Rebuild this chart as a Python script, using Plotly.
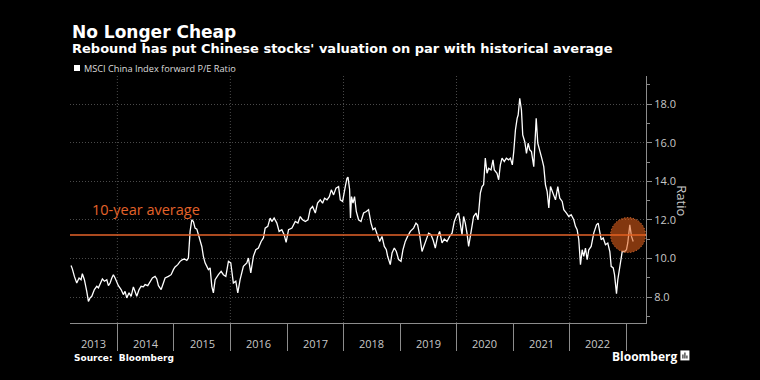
import plotly.graph_objects as go
import pandas as pd

# ---------------- data ----------------
# time as decimal years, P/E ratio values
T = [2013.180, 2013.203, 2013.239, 2013.281, 2013.322, 2013.357, 2013.380, 2013.416, 2013.458, 2013.487,
     2013.517, 2013.547, 2013.593, 2013.635, 2013.664, 2013.711, 2013.734, 2013.770, 2013.812, 2013.841,
     2013.871, 2013.901, 2013.929, 2013.959, 2013.989, 2014.018, 2014.066, 2014.106, 2014.136, 2014.166,
     2014.207, 2014.243, 2014.283, 2014.313, 2014.343, 2014.384, 2014.420, 2014.460, 2014.490, 2014.538,
     2014.579, 2014.620, 2014.667, 2014.697, 2014.726, 2014.774, 2014.814, 2014.844, 2014.903, 2014.951,
     2014.991, 2015.021, 2015.069, 2015.110, 2015.151, 2015.186, 2015.229, 2015.257, 2015.287, 2015.317,
     2015.345, 2015.375, 2015.406, 2015.434, 2015.464, 2015.494, 2015.522, 2015.552, 2015.583, 2015.611,
     2015.641, 2015.671, 2015.699, 2015.730, 2015.788, 2015.836, 2015.876, 2015.919, 2015.965, 2016.007,
     2016.053, 2016.096, 2016.131, 2016.172, 2016.230, 2016.291, 2016.319, 2016.361, 2016.407, 2016.450,
     2016.496, 2016.544, 2016.585, 2016.615, 2016.662, 2016.703, 2016.733, 2016.774, 2016.822, 2016.862,
     2016.910, 2016.951, 2016.986, 2017.027, 2017.087, 2017.146, 2017.193, 2017.234, 2017.275, 2017.323,
     2017.371, 2017.411, 2017.452, 2017.500, 2017.540, 2017.588, 2017.629, 2017.664, 2017.707, 2017.748,
     2017.783, 2017.824, 2017.866, 2017.912, 2017.942, 2017.983, 2018.031, 2018.061, 2018.079, 2018.107,
     2018.123, 2018.141, 2018.167, 2018.195, 2018.226, 2018.266, 2018.309, 2018.355, 2018.403, 2018.443,
     2018.486, 2018.521, 2018.557, 2018.603, 2018.638, 2018.680, 2018.721, 2018.757, 2018.780, 2018.827,
     2018.858, 2018.898, 2018.934, 2018.974, 2019.017, 2019.052, 2019.093, 2019.134, 2019.182, 2019.240,
     2019.282, 2019.311, 2019.346, 2019.389, 2019.429, 2019.465, 2019.505, 2019.548, 2019.583, 2019.624,
     2019.665, 2019.700, 2019.743, 2019.783, 2019.831, 2019.877, 2019.920, 2019.960, 2020.008, 2020.037,
     2020.067, 2020.097, 2020.125, 2020.155, 2020.185, 2020.214, 2020.244, 2020.274, 2020.302, 2020.345,
     2020.380, 2020.421, 2020.451, 2020.479, 2020.509, 2020.539, 2020.568, 2020.610, 2020.645, 2020.668,
     2020.716, 2020.745, 2020.775, 2020.805, 2020.845, 2020.881, 2020.922, 2020.952, 2020.987, 2021.010,
     2021.040, 2021.070, 2021.088, 2021.116, 2021.146, 2021.169, 2021.205, 2021.235, 2021.265, 2021.293,
     2021.323, 2021.364, 2021.407, 2021.435, 2021.470, 2021.513, 2021.541, 2021.571, 2021.601, 2021.630,
     2021.660, 2021.708, 2021.748, 2021.789, 2021.824, 2021.867, 2021.895, 2021.943, 2021.984, 2022.026,
     2022.072, 2022.102, 2022.132, 2022.161, 2022.191, 2022.221, 2022.249, 2022.279, 2022.309, 2022.338,
     2022.380, 2022.426, 2022.474, 2022.504, 2022.532, 2022.557, 2022.593, 2022.633, 2022.674, 2022.710,
     2022.734, 2022.770, 2022.793, 2022.828, 2022.851, 2022.881, 2022.911, 2022.929, 2022.970, 2023.005,
     2023.028, 2023.064, 2023.094, 2023.124]

PE = [9.64, 9.47, 9.08, 8.74, 9.00, 8.91, 9.22, 8.91, 8.31, 7.79,
      7.97, 8.05, 8.40, 8.57, 8.49, 8.83, 8.95, 8.83, 8.91, 8.60,
      8.74, 9.00, 9.17, 9.00, 8.74, 8.60, 8.40, 8.14, 8.31, 7.97,
      8.23, 8.05, 8.54, 8.23, 8.05, 8.40, 8.57, 8.54, 8.66, 8.60,
      8.83, 9.00, 9.08, 8.95, 8.60, 8.40, 8.74, 9.00, 9.08, 9.17,
      9.43, 9.57, 9.69, 9.86, 9.95, 9.98, 9.91, 10.03, 11.41, 12.01,
      11.92, 11.58, 11.53, 11.24, 11.07, 10.63, 10.12, 9.78, 9.60, 9.43,
      9.52, 8.57, 8.23, 8.91, 9.17, 9.34, 9.17, 9.08, 9.86, 9.78,
      8.74, 8.83, 8.23, 8.91, 9.60, 9.78, 10.03, 9.26, 10.12, 10.46,
      10.55, 10.89, 11.07, 11.58, 11.67, 12.10, 11.92, 12.10, 11.84, 11.41,
      11.50, 11.24, 10.84, 11.50, 11.58, 11.92, 11.84, 12.18, 12.01, 11.92,
      12.01, 12.56, 12.70, 12.36, 12.87, 13.04, 12.87, 13.13, 13.04, 13.21,
      13.56, 13.30, 13.65, 13.73, 13.04, 12.96, 13.73, 14.16, 14.22, 13.60,
      12.10, 13.21, 12.87, 13.21, 12.44, 12.01, 11.92, 12.36, 12.44, 12.53,
      11.84, 11.50, 11.58, 11.24, 10.89, 11.15, 10.63, 10.46, 10.12, 9.69,
      10.29, 10.55, 10.37, 9.95, 9.86, 10.46, 10.89, 11.15, 11.41, 11.58,
      11.84, 11.75, 11.24, 10.37, 10.72, 10.98, 11.32, 11.24, 10.98, 10.55,
      11.15, 11.41, 10.81, 11.01, 10.89, 11.15, 11.32, 11.92, 12.27, 12.36,
      11.84, 11.24, 12.18, 11.84, 11.32, 10.63, 11.15, 11.67, 12.18, 12.36,
      12.01, 13.39, 13.73, 13.82, 15.20, 14.42, 14.68, 14.59, 15.11, 14.59,
      14.42, 14.08, 14.85, 15.20, 15.02, 15.20, 15.11, 15.20, 14.85, 15.54,
      16.66, 17.26, 17.43, 18.29, 17.69, 16.40, 16.05, 15.45, 15.97, 15.63,
      15.54, 14.76, 17.26, 15.97, 15.63, 15.11, 14.76, 13.82, 13.47, 12.62,
      13.73, 13.39, 13.04, 13.73, 13.13, 12.96, 12.53, 12.36, 12.18, 12.27,
      12.01, 11.67, 11.50, 10.98, 9.69, 10.46, 10.12, 10.55, 9.95, 10.46,
      10.63, 11.32, 11.75, 11.84, 11.24, 10.98, 11.07, 10.72, 10.81, 10.37,
      9.60, 9.52, 9.17, 8.19, 8.91, 9.43, 9.86, 10.37, 10.37, 10.46,
      10.81, 11.75, 11.15, 10.89]

AVG_10Y = 11.22
YEAR_LABELS = [2013, 2014, 2015, 2016, 2017, 2018, 2019, 2020, 2021, 2022]
GRID_YEARS = [2014, 2016, 2018, 2020, 2022]
SERIES_NAME = "MSCI China Index forward P/E Ratio"
X_RANGE = ["2013-03-01", "2023-05-09"]
Y_RANGE = [6.67, 19.45]
HIGHLIGHT_DATE = "2023-01-13"


def to_date(t):
    y = int(t)
    return pd.Timestamp(year=y, month=1, day=1) + pd.Timedelta(days=(t - y) * 365.25)


dates = [to_date(t) for t in T]

# ---------------- layout geometry ----------------
W, H = 760, 380
PL, PR, PT, PB = 70, 645.6, 76, 323.5


def px_x(px):
    return (px - PL) / (PR - PL)


def px_y(py):
    return (PB - py) / (PB - PT)


ORANGE = "#e4632a"
GRID = "#4a4a4a"
AXIS = "#8c8c8c"
TICKTXT = "#c8c8c8"

fig = go.Figure()
fig.add_trace(go.Scatter(x=dates, y=PE, mode="lines", name=SERIES_NAME,
                         line=dict(color="#ffffff", width=1.3), showlegend=False,
                         hoverinfo="skip"))

fig.add_hline(y=AVG_10Y, line=dict(color=ORANGE, width=1.6), layer="above")

# even-year vertical dotted gridlines
for yr in GRID_YEARS:
    fig.add_shape(type="line", xref="x", yref="paper", x0=f"{yr}-01-01", x1=f"{yr}-01-01",
                  y0=0, y1=1, line=dict(color=GRID, width=1, dash="1px,2px"), layer="below")

# highlight circle
fig.add_shape(type="circle", xref="x", yref="y", xsizemode="pixel", ysizemode="pixel",
              xanchor=HIGHLIGHT_DATE, yanchor=AVG_10Y, x0=-17.5, x1=17.5, y0=-17.5, y1=17.5,
              fillcolor="rgba(225,95,25,0.58)", line=dict(color="#e8783a", width=1, dash="1px,2px"),
              layer="above")

ann = []
# year labels
for yr in YEAR_LABELS:
    xd = f"{yr}-07-02" if yr != 2013 else "2013-08-01"
    ann.append(dict(x=xd, xref="x", y=0, yref="paper", yshift=-20.5, yanchor="middle",
                    xanchor="center", text=str(yr), showarrow=False,
                    font=dict(family="Open Sans", size=11, color=TICKTXT)))

ann += [
    dict(x=px_x(70), y=px_y(31.5), xref="paper", yref="paper", xanchor="left", yanchor="middle",
         text="<b>No Longer Cheap</b>", showarrow=False,
         font=dict(family="DejaVu Sans", size=17, color="#ffffff")),
    dict(x=px_x(70), y=px_y(48.5), xref="paper", yref="paper", xanchor="left", yanchor="middle",
         text="<b>Rebound has put Chinese stocks' valuation on par with historical average</b>",
         showarrow=False, font=dict(family="DejaVu Sans", size=13, color="#ffffff")),
    dict(x=px_x(82), y=px_y(68), xref="paper", yref="paper", xanchor="left", yanchor="middle",
         text=SERIES_NAME, showarrow=False,
         font=dict(family="Open Sans", size=9.2, color="#dddddd")),
    dict(x=px_x(89.5), y=px_y(210), xref="paper", yref="paper", xanchor="left", yanchor="middle",
         text="10-year average", showarrow=False,
         font=dict(family="Open Sans", size=14.5, color=ORANGE)),
    dict(x=px_x(682), y=px_y(201), xref="paper", yref="paper", xanchor="center", yanchor="middle",
         text="Ratio", textangle=90, showarrow=False,
         font=dict(family="Open Sans", size=13, color=TICKTXT)),
    dict(x=px_x(72), y=px_y(359), xref="paper", yref="paper", xanchor="left", yanchor="middle",
         text="<b>Source:  Bloomberg</b>", showarrow=False,
         font=dict(family="DejaVu Sans", size=9, color="#ffffff")),
    dict(x=px_x(610), y=px_y(357), xref="paper", yref="paper", xanchor="left", yanchor="middle",
         text="<b>Bloomberg</b>", showarrow=False,
         font=dict(family="Open Sans", size=12, color="#ffffff")),
]

shapes = [
    # legend swatch
    dict(type="rect", xref="paper", yref="paper", x0=px_x(74), x1=px_x(80), y0=px_y(71), y1=px_y(65),
         fillcolor="#ffffff", line=dict(width=0)),
    # Bloomberg icon
    dict(type="rect", xref="paper", yref="paper", x0=px_x(680), x1=px_x(689), y0=px_y(361), y1=px_y(351),
         fillcolor="#ffffff", line=dict(width=0)),
    dict(type="rect", xref="paper", yref="paper", x0=px_x(682), x1=px_x(683), y0=px_y(359), y1=px_y(355),
         fillcolor="#000000", line=dict(width=0)),
    dict(type="rect", xref="paper", yref="paper", x0=px_x(684), x1=px_x(685), y0=px_y(359), y1=px_y(353),
         fillcolor="#000000", line=dict(width=0)),
    dict(type="rect", xref="paper", yref="paper", x0=px_x(686), x1=px_x(687), y0=px_y(359), y1=px_y(356),
         fillcolor="#000000", line=dict(width=0)),
]
for s in shapes:
    fig.add_shape(**s)

fig.update_layout(
    width=W, height=H,
    margin=dict(l=PL, r=W - PR, t=PT, b=H - PB, pad=0),
    paper_bgcolor="#000000", plot_bgcolor="#000000",
    annotations=ann,
    showlegend=False,
    xaxis=dict(type="date", range=X_RANGE, showgrid=False, zeroline=False,
               showline=True, linecolor=AXIS, linewidth=1,
               tickmode="linear", tick0="2014-01-01", dtick="M12",
               ticks="outside", ticklen=27, tickcolor=AXIS, tickwidth=1,
               showticklabels=False),
    yaxis=dict(side="right", range=Y_RANGE, zeroline=False,
               showline=True, linecolor=AXIS, linewidth=1,
               tickmode="linear", tick0=0, dtick=2, tickformat=".1f",
               ticks="outside", ticklen=5, tickcolor=AXIS,
               showgrid=True, gridcolor=GRID, gridwidth=1, griddash="1px,2px",
               tickfont=dict(family="Open Sans", size=11, color=TICKTXT),
               minor=dict(dtick=1, tick0=0, ticks="outside", ticklen=3, tickcolor=AXIS, showgrid=False)),
)

fig.write_html("out.html", config={"displayModeBar": False},
               post_script="document.body.style.margin='0';document.body.style.background='#000';")
